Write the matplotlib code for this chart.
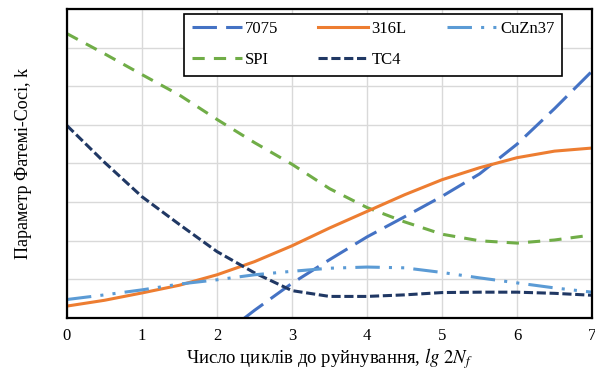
import matplotlib
matplotlib.use("Agg")
import matplotlib.pyplot as plt

plt.rcParams["font.family"] = ["Liberation Serif", "DejaVu Serif"]
plt.rcParams["mathtext.fontset"] = "stix"

# значення (ось y без підписів, умовні одиниці 0..8)
x = [0, 0.5, 1, 1.5, 2, 2.5, 3, 3.5, 4, 4.5, 5, 5.5, 6, 6.5, 7]

spi = [7.36, 6.84, 6.30, 5.77, 5.14, 4.54, 3.98, 3.35, 2.86, 2.49, 2.17, 2.00, 1.94, 2.02, 2.15]
tc4 = [4.98, 4.03, 3.14, 2.42, 1.72, 1.17, 0.71, 0.56, 0.56, 0.60, 0.66, 0.67, 0.67, 0.64, 0.59]
l316 = [0.31, 0.46, 0.65, 0.85, 1.12, 1.46, 1.87, 2.33, 2.76, 3.19, 3.58, 3.89, 4.15, 4.32, 4.40]
cuzn37 = [0.48, 0.60, 0.73, 0.88, 0.99, 1.12, 1.21, 1.29, 1.32, 1.30, 1.18, 1.04, 0.91, 0.78, 0.67]

x7075 = [2, 2.5, 3, 3.5, 4, 4.5, 5, 5.5, 6, 6.5, 7]
a7075 = [-0.55, 0.20, 0.90, 1.51, 2.10, 2.62, 3.15, 3.73, 4.50, 5.42, 6.39]

fig = plt.figure(figsize=(5.95, 3.72), dpi=100)
ax = fig.add_axes([0.1126, 0.145, 0.8824, 0.831])

lw = 2.2
ax.plot(x7075, a7075, color="#4472C4", lw=lw, dashes=(8, 3), label="7075")
ax.plot(x, spi, color="#70AD47", lw=lw, dashes=(4, 3), label="SPI")
ax.plot(x, l316, color="#ED7D31", lw=lw, label="316L")
ax.plot(x, tc4, color="#203864", lw=lw, dashes=(3, 1.2), label="TC4")
ax.plot(x, cuzn37, color="#5B9BD5", lw=lw, dashes=(8, 3, 1, 3, 1, 3), label="CuZn37")

ax.set_xlim(0, 7)
ax.set_ylim(0, 8)
ax.set_xticks(range(8))
ax.set_yticks(range(9))
ax.set_yticklabels([])
ax.tick_params(length=0, labelsize=12)
ax.tick_params(axis="x", pad=7)
ax.tick_params(axis="y", pad=0)
ax.grid(True, color="#d9d9d9", lw=1)
ax.set_axisbelow(True)
for s in ax.spines.values():
    s.set_linewidth(1.6)
    s.set_color("black")

ax.set_xlabel(r"Число циклів до руйнування, $lg\ 2N_f$", fontsize=13.5)
ax.xaxis.set_label_coords(0.5, -0.09)
ax.set_ylabel("Параметр Фатемі-Сосі, k", fontsize=13, labelpad=25)

leg = ax.legend(ncol=3, loc="upper left", bbox_to_anchor=(0.223, 0.985), fontsize=12,
                frameon=True, fancybox=False, edgecolor="black", framealpha=1,
                handlelength=3.0, handletextpad=0.2, columnspacing=2.4,
                borderpad=0.45, labelspacing=0.9, borderaxespad=0)
leg.get_frame().set_linewidth(1.2)

fig.savefig("out.png", dpi=100)
